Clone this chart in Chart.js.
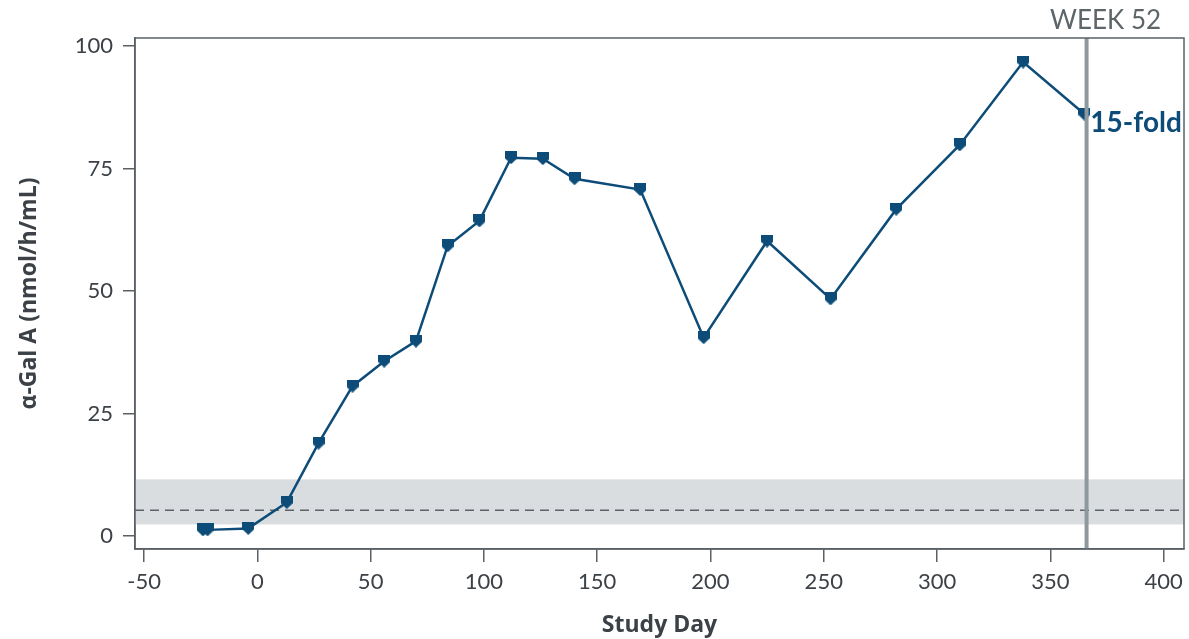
<!DOCTYPE html>
<html>
<head>
<meta charset="utf-8">
<script src="https://cdn.jsdelivr.net/npm/chart.js@4/dist/chart.umd.min.js"></script>
<style>
  html, body { margin: 0; padding: 0; background: #ffffff; }
  canvas { display: block; }
</style>
</head>
<body>
<canvas id="chart" width="1189" height="639"></canvas>
<script>
// Plasma α-Gal A activity by study day
const studyDay = [-24, -22, -4, 13, 27, 42, 56, 70, 84, 98, 112, 126, 140, 169, 197, 225, 253, 282, 310, 338, 365];
const galA     = [1.3, 1.3, 1.6, 6.9, 19.0, 30.6, 35.7, 39.8, 59.2, 64.3, 77.2, 77.0, 72.9, 70.7, 40.5, 60.2, 48.4, 66.7, 79.8, 96.7, 86.1];

const xTicks = [-50, 0, 50, 100, 150, 200, 250, 300, 350, 400];
const yTicks = [0, 25, 50, 75, 100];

// Reference range (shaded) and its mean (dashed)
const normalRange = [2.4, 11.6];
const normalMean = [5.3];

// Week 52 marker and fold-change label
const week52Day = [366];
const week52Label = 'WEEK 52';
const foldLabel = '15-fold';

const navy = '#0d4c78';
const axisGrey = '#5a6066';
const textGrey = '#3b4146';

// Shield-shaped marker (flat top, pointed bottom)
function shieldMarker(w, h, color) {
  const c = document.createElement('canvas');
  c.width = w; c.height = h;
  const g = c.getContext('2d');
  g.fillStyle = color;
  g.beginPath();
  g.moveTo(0, 0);
  g.lineTo(w, 0);
  g.lineTo(w, h * 0.55);
  g.lineTo(w / 2, h);
  g.lineTo(0, h * 0.55);
  g.closePath();
  g.fill();
  return c;
}
const marker = shieldMarker(12, 13, navy);

const decorations = {
  id: 'decorations',
  beforeDatasetsDraw(chart) {
    const { ctx, chartArea: a, scales: { y } } = chart;
    ctx.save();
    // shaded reference range
    const yLo = y.getPixelForValue(normalRange[0]);
    const yHi = y.getPixelForValue(normalRange[1]);
    ctx.fillStyle = '#d9dddf';
    ctx.fillRect(a.left, yHi, a.right - a.left, yLo - yHi);
    // dashed mean line
    const ym = y.getPixelForValue(normalMean[0]);
    ctx.strokeStyle = '#5c6268';
    ctx.lineWidth = 1.5;
    ctx.setLineDash([9, 6]);
    ctx.beginPath();
    ctx.moveTo(a.left, ym);
    ctx.lineTo(a.right, ym);
    ctx.stroke();
    ctx.restore();
  },
  afterDatasetsDraw(chart) {
    const { ctx, chartArea: a, scales: { x, y } } = chart;
    ctx.save();
    // week 52 vertical line
    const xw = x.getPixelForValue(week52Day[0]);
    ctx.strokeStyle = '#8f989c';
    ctx.lineWidth = 4;
    ctx.beginPath();
    ctx.moveTo(xw, a.top);
    ctx.lineTo(xw, a.bottom);
    ctx.stroke();
    // week 52 label
    ctx.fillStyle = '#5d6569';
    ctx.font = '26px Lato';
    ctx.textAlign = 'center';
    ctx.textBaseline = 'alphabetic';
    ctx.fillText(week52Label, xw + 19, 29);
    // fold-change label next to last point
    const last = galA.length - 1;
    const lx = x.getPixelForValue(studyDay[last]);
    const ly = y.getPixelForValue(galA[last]);
    ctx.fillStyle = navy;
    ctx.font = 'bold 28px Lato';
    ctx.textAlign = 'left';
    ctx.fillText(foldLabel, lx + 6, ly + 18);
    // plot frame
    ctx.strokeStyle = axisGrey;
    ctx.lineWidth = 1.5;
    ctx.strokeRect(a.left, a.top, a.right - a.left, a.bottom - a.top);
    ctx.restore();
  }
};

new Chart(document.getElementById('chart'), {
  type: 'line',
  data: {
    datasets: [{
      data: studyDay.map((d, i) => ({ x: d, y: galA[i] })),
      borderColor: navy,
      borderWidth: 2.5,
      pointStyle: marker,
      pointRadius: 6,
      pointHoverRadius: 6,
      fill: false,
      tension: 0
    }]
  },
  options: {
    responsive: false,
    animation: false,
    devicePixelRatio: 1,
    layout: { autoPadding: false, padding: { top: 38, right: 5, left: 0, bottom: 0 } },
    plugins: { legend: { display: false }, tooltip: { enabled: false } },
    scales: {
      x: {
        type: 'linear',
        min: -54,
        max: 409,
        afterBuildTicks: s => { s.ticks = xTicks.map(v => ({ value: v })); },
        afterFit: s => { s.height = 90; s.paddingLeft = 0; s.paddingRight = 0; },
        grid: { drawOnChartArea: false, drawTicks: true, tickLength: 13, color: axisGrey, lineWidth: 1.5 },
        border: { display: true, color: axisGrey, width: 1.5 },
        ticks: { color: textGrey, font: { family: 'Lato', size: 22 }, padding: 7, maxRotation: 0 },
        title: { display: true, text: 'Study Day', color: textGrey, font: { family: 'Open Sans', size: 23, weight: 'bold' }, padding: { top: 0, bottom: 0 } }
      },
      y: {
        type: 'linear',
        min: -2.6,
        max: 101.6,
        afterBuildTicks: s => { s.ticks = yTicks.map(v => ({ value: v })); },
        afterFit: s => { s.width = 135; s.paddingTop = 0; s.paddingBottom = 0; },
        grid: { drawOnChartArea: false, drawTicks: true, tickLength: 12, color: axisGrey, lineWidth: 1.5 },
        border: { display: true, color: axisGrey, width: 1.5 },
        ticks: { color: textGrey, font: { family: 'Lato', size: 22 }, padding: 10 },
        title: { display: true, text: 'α-Gal A (nmol/h/mL)', color: textGrey, font: { family: 'Open Sans', size: 23, weight: 'bold' }, padding: { top: 16, bottom: 0 } }
      }
    }
  },
  plugins: [decorations]
});
</script>
</body>
</html>
